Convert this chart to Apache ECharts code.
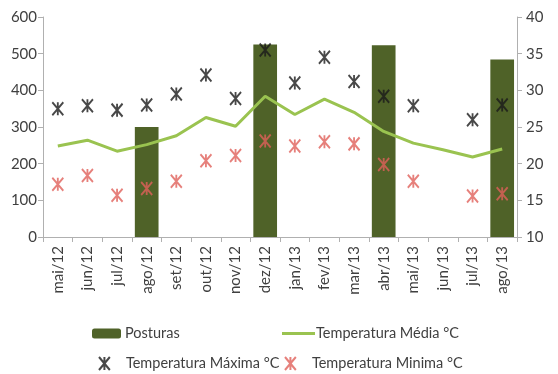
<!DOCTYPE html>
<html>
<head>
<meta charset="utf-8">
<script src="https://cdn.jsdelivr.net/npm/echarts@6/dist/echarts.min.js"></script>
<style>
  html, body { margin: 0; padding: 0; background: #fff; }
  #chart { width: 558px; height: 374px; }
</style>
</head>
<body>
<div id="chart"></div>
<script>
// meses
var meses = ['mai/12', 'jun/12', 'jul/12', 'ago/12', 'set/12', 'out/12', 'nov/12', 'dez/12',
  'jan/13', 'fev/13', 'mar/13', 'abr/13', 'mai/13', 'jun/13', 'jul/13', 'ago/13']
// posturas (eixo esquerdo)
var posturas = [0, 0, 0, 300, 0, 0, 0, 525, 0, 0, 0, 523, 0, 0, 0, 484]
// temperatura média
var tempMedia = [22.4, 23.2, 21.7, 22.6, 23.8, 26.3, 25.1, 29.2, 26.7, 28.8, 27.0, 24.4, 22.8, 21.9, 20.9, 22.0]
// temperatura máxima
var tempMax = [27.5, 27.9, 27.3, 28.0, 29.5, 32.1, 28.9, 35.5, 31.0, 34.5, 31.2, 29.2, 27.9, '-', 26.0, 28.0]
// temperatura mínima
var tempMin = [17.2, 18.4, 15.7, 16.6, 17.6, 20.4, 21.1, 23.1, 22.4, 23.0, 22.7, 19.9, 17.6, '-', 15.6, 15.9]

var asterisco = 'path://M0,0L10,12M10,0L0,12M5,0L5,12'
var fonte = 'Lato'
var corTexto = '#404040'
var corEixo = '#b0b0b0'

var chart = echarts.init(document.getElementById('chart'))

function legenda(item, left, top, w, h, gap) {
  return {
    data: [item],
    left: left,
    top: top,
    itemWidth: w,
    itemHeight: h,
    padding: 0,
    textStyle: { fontFamily: fonte, fontSize: 14.5, color: corTexto, padding: [0, 0, 0, gap] }
  }
}

var option = {
  animation: false,
  grid: { left: 43, right: 41, top: 17, bottom: 137 },
  legend: [
    legenda('Posturas', 92, 326, 29, 10, -1),
    legenda({ name: 'Temperatura Média °C', icon: 'rect' }, 282, 326, 33, 3, -4),
    legenda('Temperatura Máxima °C', 98, 356, 11, 13, 11),
    legenda('Temperatura Minima °C', 284, 356, 11, 13, 11)
  ],
  xAxis: {
    type: 'category',
    data: meses,
    axisLine: { lineStyle: { color: corEixo } },
    axisTick: { show: true, length: 5, lineStyle: { color: corEixo } },
    axisLabel: { rotate: 90, fontFamily: fonte, fontSize: 15, color: corTexto, margin: 9 }
  },
  yAxis: [{
    type: 'value',
    min: 0,
    max: 600,
    interval: 100,
    splitLine: { show: false },
    axisLine: { show: true, lineStyle: { color: corEixo } },
    axisTick: { show: true, length: 5, lineStyle: { color: corEixo } },
    axisLabel: { fontFamily: fonte, fontSize: 15, color: corTexto, margin: 6 }
  }, {
    type: 'value',
    min: 10,
    max: 40,
    interval: 5,
    position: 'right',
    splitLine: { show: false },
    axisLine: { show: true, lineStyle: { color: corEixo } },
    axisTick: { show: true, length: 5, lineStyle: { color: corEixo } },
    axisLabel: { fontFamily: fonte, fontSize: 15, color: corTexto, margin: 9 }
  }],
  series: [{
    name: 'Posturas',
    type: 'bar',
    data: posturas,
    barWidth: '80%',
    itemStyle: { color: '#4F6228' },
    z: 1
  }, {
    name: 'Temperatura Média °C',
    type: 'line',
    yAxisIndex: 1,
    data: tempMedia,
    symbol: 'none',
    lineStyle: { color: '#9AC350', width: 3 },
    itemStyle: { color: '#9AC350' },
    z: 2
  }, {
    name: 'Temperatura Máxima °C',
    type: 'scatter',
    yAxisIndex: 1,
    data: tempMax,
    symbol: asterisco,
    symbolSize: [11, 13],
    itemStyle: { color: 'rgba(0,0,0,0)', borderColor: '#1a1a1a', borderWidth: 2 },
    z: 3
  }, {
    name: 'Temperatura Minima °C',
    type: 'scatter',
    yAxisIndex: 1,
    data: tempMin,
    symbol: asterisco,
    symbolSize: [11, 13],
    itemStyle: { color: 'rgba(0,0,0,0)', borderColor: '#E0605A', borderWidth: 2 },
    z: 3
  }]
}

chart.setOption(option)
</script>
</body>
</html>
